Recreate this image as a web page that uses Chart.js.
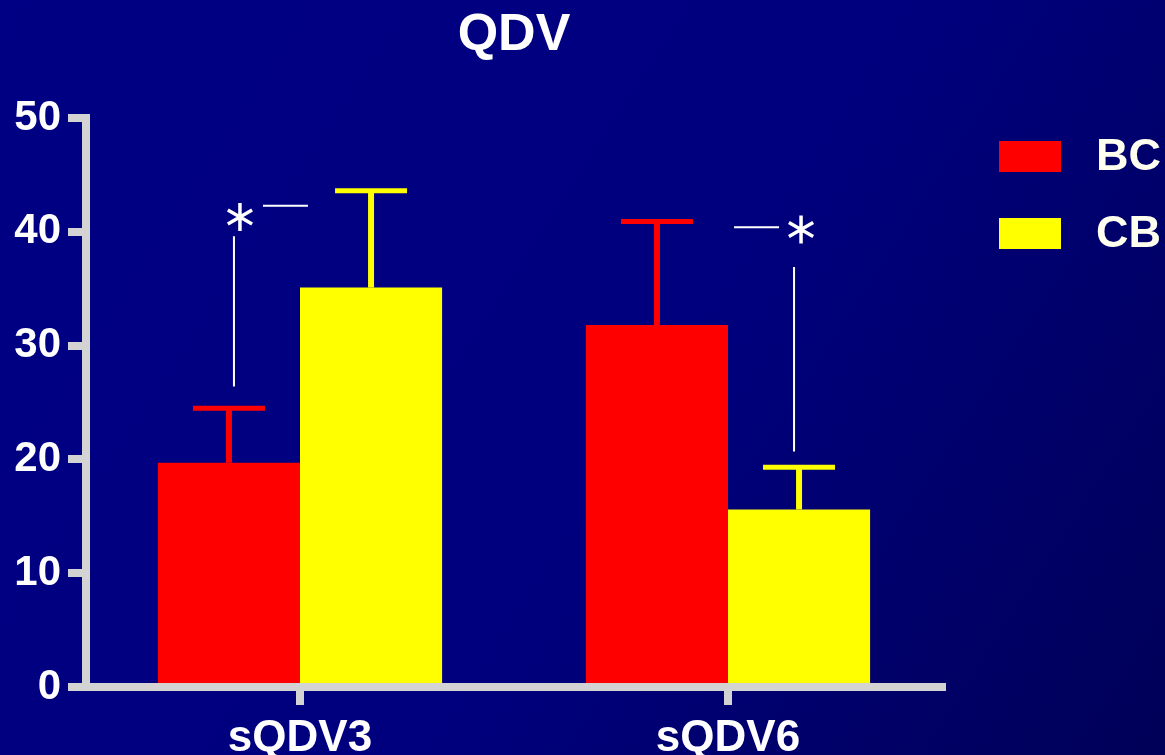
<!DOCTYPE html>
<html>
<head>
<meta charset="utf-8">
<script src="https://cdn.jsdelivr.net/npm/chart.js@4.4.0/dist/chart.umd.min.js"></script>
<style>
    html, body { margin: 0; padding: 0; background: #000080; overflow: hidden; }
    canvas { display: block; }
</style>
</head>
<body>
<canvas id="qdvChart" width="1165" height="755"></canvas>
<script>
const FONT = "'Liberation Sans', Arial, sans-serif";

const categories = ['sQDV3', 'sQDV6'];
const seriesLabels = ['BC', 'CB'];
const bcMeans = [19.7, 31.8];
const bcErrors = [4.8, 9.1];
const cbMeans = [35.1, 15.6];
const cbErrors = [8.5, 3.7];
const yTicks = [0, 10, 20, 30, 40, 50];
// significance marks: vertical line from..to, asterisk level, dash level
const sigLineFrom = [26.4, 20.7];
const sigLineTo = [39.6, 36.9];
const sigStar = [41.3, 40.2];
const sigDash = [42.3, 40.4];

const AXIS_GREY = '#d3d3d3';

// dark blue backdrop, a bit darker toward bottom-right
const backgroundPlugin = {
    id: 'backdrop',
    beforeDraw(chart) {
        const { ctx, width, height } = chart;
        const g = ctx.createLinearGradient(0, 0, width, height);
        g.addColorStop(0, '#000084');
        g.addColorStop(0.55, '#00007e');
        g.addColorStop(1, '#000058');
        ctx.save();
        ctx.fillStyle = g;
        ctx.fillRect(0, 0, width, height);
        ctx.restore();
    }
};

// upward error bars with caps
const errorBarPlugin = {
    id: 'errorBars',
    afterDatasetsDraw(chart) {
        const { ctx } = chart;
        const yScale = chart.scales.y;
        chart.data.datasets.forEach((ds, di) => {
            const meta = chart.getDatasetMeta(di);
            meta.data.forEach((bar, i) => {
                const top = yScale.getPixelForValue(ds.data[i] + ds.errors[i]);
                ctx.save();
                ctx.strokeStyle = ds.backgroundColor;
                ctx.lineWidth = 6;
                ctx.beginPath();
                ctx.moveTo(bar.x, bar.y);
                ctx.lineTo(bar.x, top);
                ctx.stroke();
                ctx.lineWidth = 5;
                ctx.beginPath();
                ctx.moveTo(bar.x - 36, top);
                ctx.lineTo(bar.x + 36, top);
                ctx.stroke();
                ctx.restore();
            });
        });
    }
};

function drawStar(ctx, cx, cy, r) {
    ctx.beginPath();
    ctx.moveTo(cx, cy - r);
    ctx.lineTo(cx, cy + r);
    const dx = r * Math.cos(Math.PI / 6), dy = r * Math.sin(Math.PI / 6);
    ctx.moveTo(cx - dx, cy - dy);
    ctx.lineTo(cx + dx, cy + dy);
    ctx.moveTo(cx - dx, cy + dy);
    ctx.lineTo(cx + dx, cy - dy);
    ctx.stroke();
}

// asterisks + lines, and the legend on the right
const annotationPlugin = {
    id: 'annotations',
    afterDraw(chart) {
        const { ctx } = chart;
        const y = chart.scales.y;
        const bc = chart.getDatasetMeta(0).data;
        const cb = chart.getDatasetMeta(1).data;

        ctx.save();
        ctx.strokeStyle = '#ffffff';

        // sQDV3 : mark beside the BC bar
        let x0 = bc[0].x;
        ctx.lineWidth = 2;
        ctx.beginPath();
        ctx.moveTo(x0 + 5, y.getPixelForValue(sigLineFrom[0]));
        ctx.lineTo(x0 + 5, y.getPixelForValue(sigLineTo[0]));
        ctx.moveTo(x0 + 34, y.getPixelForValue(sigDash[0]));
        ctx.lineTo(x0 + 79, y.getPixelForValue(sigDash[0]));
        ctx.stroke();
        ctx.lineWidth = 3.5;
        drawStar(ctx, x0 + 11, y.getPixelForValue(sigStar[0]), 14);

        // sQDV6 : mark beside the CB bar
        x0 = cb[1].x;
        ctx.lineWidth = 2;
        ctx.beginPath();
        ctx.moveTo(x0 - 5, y.getPixelForValue(sigLineFrom[1]));
        ctx.lineTo(x0 - 5, y.getPixelForValue(sigLineTo[1]));
        ctx.moveTo(x0 - 65, y.getPixelForValue(sigDash[1]));
        ctx.lineTo(x0 - 20, y.getPixelForValue(sigDash[1]));
        ctx.stroke();
        ctx.lineWidth = 3.5;
        drawStar(ctx, x0 + 2, y.getPixelForValue(sigStar[1]), 14);

        // legend
        ctx.font = 'bold 45px ' + FONT;
        ctx.textBaseline = 'middle';
        ctx.textAlign = 'left';
        chart.data.datasets.forEach((ds, i) => {
            const top = 141 + i * 77;
            ctx.fillStyle = ds.backgroundColor;
            ctx.fillRect(999, top, 62, 31);
            ctx.fillStyle = '#fffff0';
            ctx.fillText(ds.label, 1096, top + 17);
        });
        ctx.restore();
    }
};

new Chart(document.getElementById('qdvChart'), {
    type: 'bar',
    data: {
        labels: categories,
        datasets: [
            {
                label: seriesLabels[0],
                data: bcMeans,
                errors: bcErrors,
                backgroundColor: '#ff0000',
                borderWidth: 0
            },
            {
                label: seriesLabels[1],
                data: cbMeans,
                errors: cbErrors,
                backgroundColor: '#ffff00',
                borderWidth: 0
            }
        ]
    },
    options: {
        responsive: false,
        animation: false,
        categoryPercentage: 0.664,
        barPercentage: 1.0,
        layout: { padding: { left: 0, right: 223, top: 0, bottom: 0 } },
        plugins: {
            legend: { display: false },
            tooltip: { enabled: false },
            title: {
                display: true,
                text: 'QDV',
                color: '#ffffff',
                fullSize: false,
                font: { family: FONT, size: 52, weight: 'bold' },
                padding: { top: 4, bottom: 51.6 }
            }
        },
        scales: {
            x: {
                z: 1,
                offset: true,
                grid: {
                    display: true,
                    drawOnChartArea: false,
                    offset: false,
                    color: AXIS_GREY,
                    lineWidth: 8,
                    tickLength: 18
                },
                border: { display: true, color: AXIS_GREY, width: 8 },
                ticks: {
                    color: '#ffffff',
                    padding: 7,
                    font: { family: FONT, size: 44, weight: 'bold' }
                },
                afterFit(scale) { scale.height = 68; }
            },
            y: {
                min: 0,
                max: 50,
                afterBuildTicks(scale) { scale.ticks = yTicks.map(v => ({ value: v })); },
                grid: {
                    display: true,
                    drawOnChartArea: false,
                    color: AXIS_GREY,
                    lineWidth: 8,
                    tickLength: 18
                },
                border: { display: true, color: AXIS_GREY, width: 8 },
                ticks: {
                    color: '#ffffff',
                    padding: 7,
                    font: { family: FONT, size: 42, weight: 'bold' }
                },
                afterFit(scale) { scale.width = 86; }
            }
        }
    },
    plugins: [backgroundPlugin, errorBarPlugin, annotationPlugin]
});
</script>
</body>
</html>
